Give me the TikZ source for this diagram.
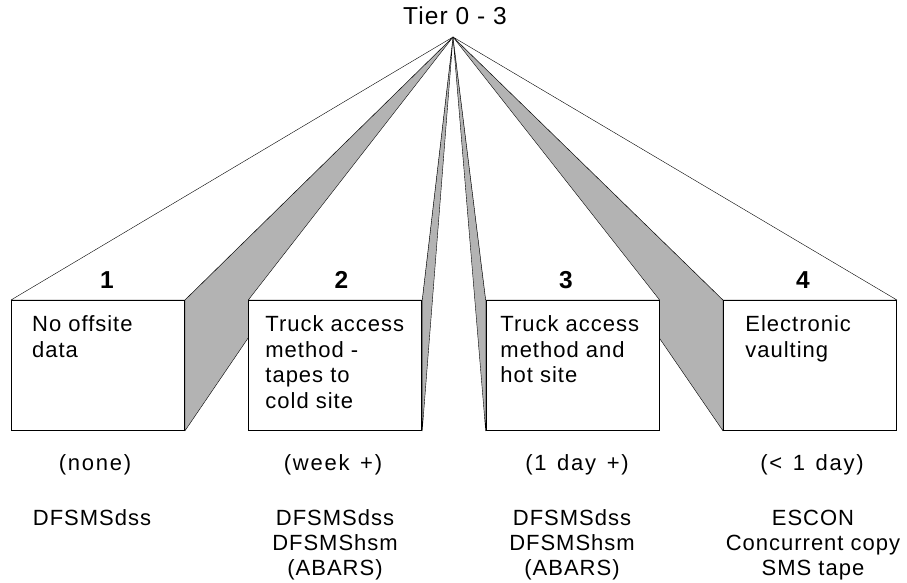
\documentclass[tikz,border=0pt]{standalone}
\usepackage{fontspec}
\setmainfont{Liberation Sans}[LetterSpace=4.5]
\newfontfamily\widefont{Liberation Sans}[LetterSpace=8, WordSpace=1.35]
\usetikzlibrary{positioning,backgrounds}
\definecolor{sidegray}{RGB}{179,179,179}

\begin{document}
\begin{tikzpicture}[x=1pt, y=-1pt, line width=0.9pt,
    frontbox/.style={draw, rectangle, fill=white, anchor=north west, inner sep=0pt, minimum width=173pt, minimum height=130pt},
    sideface/.style={draw, fill=sidegray, line join=round},
    topface/.style={draw, fill=white, line join=round},
    boxtext/.style={anchor=base west, align=left, inner sep=0pt, font=\fontsize{22}{25.6}\selectfont},
    lowtext/.style={anchor=base, align=center, inner sep=0pt, font=\fontsize{22}{25.3}\selectfont},
    spantext/.style={anchor=base, inner sep=0pt, font=\widefont\fontsize{22}{25.3}\selectfont},
    tiernum/.style={anchor=base, inner sep=0pt, font=\fontsize{24.5}{26}\selectfont\bfseries}]
    \useasboundingbox (0,0) rectangle (907,583);
    \node[anchor=base, inner sep=0pt, font=\fontsize{24.5}{26}\selectfont] (tier) at (455,25) {Tier 0 - 3};
    \coordinate (apex) at (453,37);
    % front faces
    \node[frontbox] (box1) at (11,300) {};
    \node[frontbox] (box2) at (248.3,300) {};
    \node[frontbox] (box3) at (485.7,300) {};
    \node[frontbox] (box4) at (723,300) {};
    % faces running back to the apex
    \begin{scope}[on background layer]
        \draw[sideface] (box1.north east) -- (box1.south east) -- (apex) -- cycle;
        \draw[sideface] (box2.north east) -- (box2.south east) -- (apex) -- cycle;
        \draw[sideface] (box3.north west) -- (box3.south west) -- (apex) -- cycle;
        \draw[sideface] (box4.north west) -- (box4.south west) -- (apex) -- cycle;
        \foreach \b in {box1,box2,box3,box4}
            \draw[topface] (\b.north west) -- (\b.north east) -- (apex) -- cycle;
    \end{scope}
    % tier numbers
    \node[tiernum] (num1) at (107,288) {1};
    \node[tiernum] (num2) at (341.5,288) {2};
    \node[tiernum] (num3) at (566,288) {3};
    \node[tiernum] (num4) at (803,288) {4};
    % box texts (base = last line)
    \node[boxtext] (txt1) at (31.7,357.3) {No offsite\\data};
    \node[boxtext] (txt2) at (265,408.5) {Truck access\\method -\\tapes to\\cold site};
    \node[boxtext] (txt3) at (500,382.9) {Truck access\\method and\\hot site};
    \node[boxtext] (txt4) at (745,357.3) {Electronic\\vaulting};
    % recovery time
    \node[spantext] (time1) at (95,470) {(none)};
    \node[spantext] (time2) at (333,470) {(week +)};
    \node[spantext] (time3) at (577,470) {(1 day +)};
    \node[spantext] (time4) at (812,470) {(< 1 day)};
    % products
    \node[lowtext] (prod1) at (92,525) {DFSMSdss};
    \node[lowtext] (prod2) at (335,575.6) {DFSMSdss\\DFSMShsm\\(ABARS)};
    \node[lowtext] (prod3) at (572,575.6) {DFSMSdss\\DFSMShsm\\(ABARS)};
    \node[lowtext] (prod4) at (813,575.6) {ESCON\\Concurrent copy\\SMS tape};
\end{tikzpicture}
\end{document}
